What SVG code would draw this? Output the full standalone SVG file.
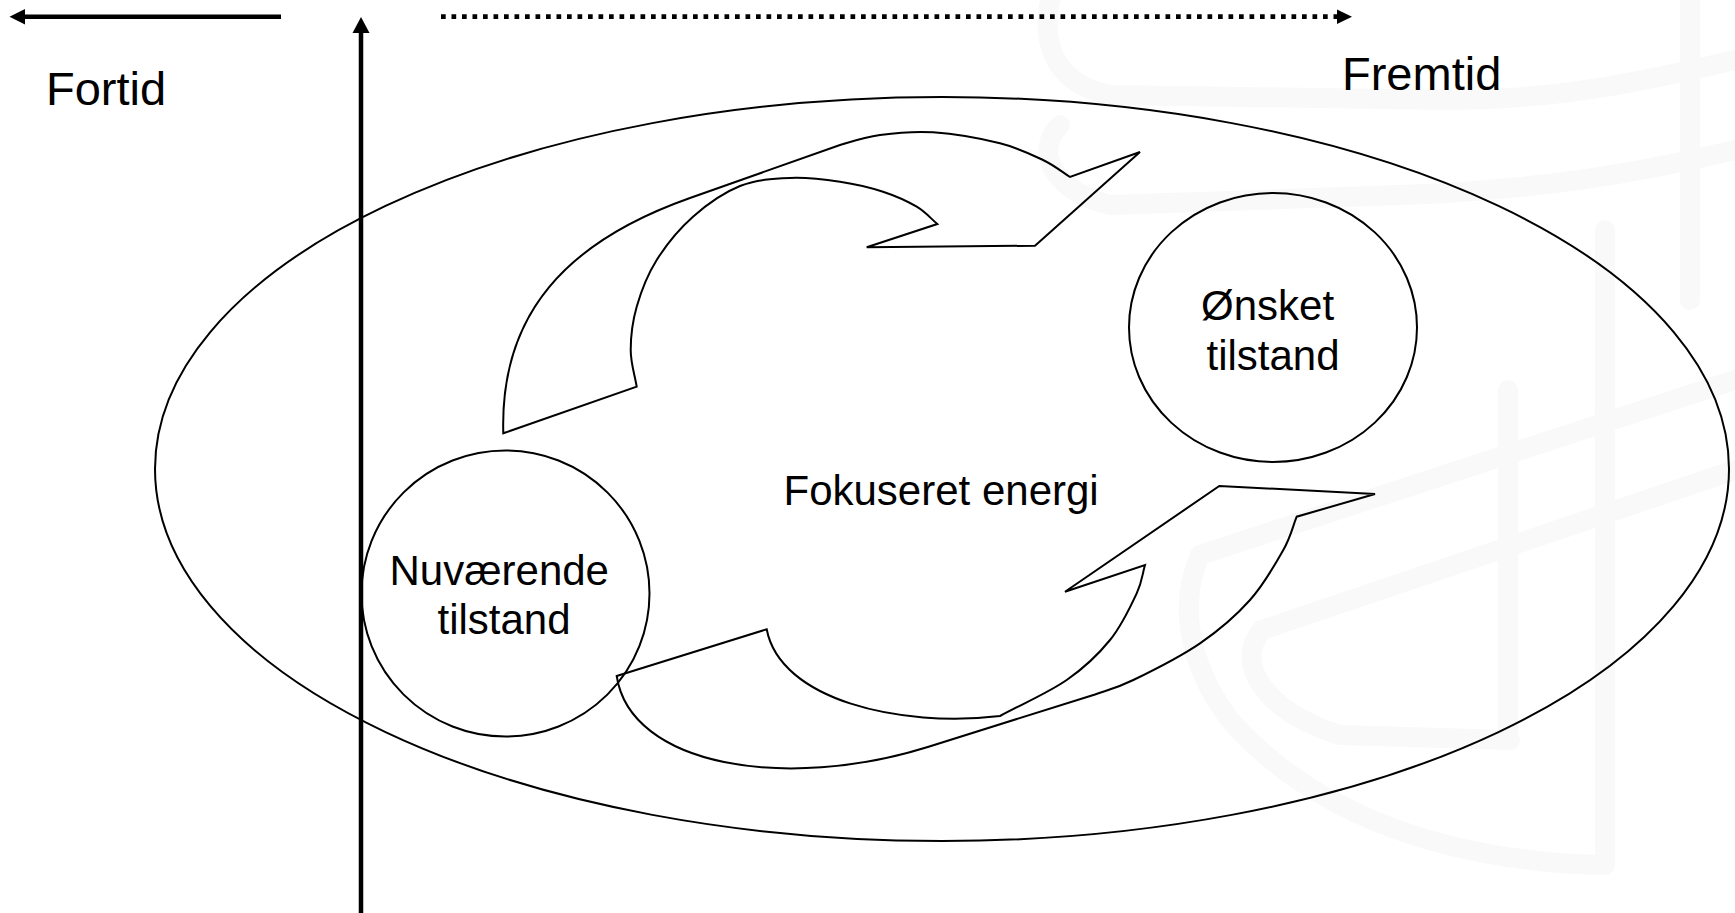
<svg xmlns="http://www.w3.org/2000/svg" width="1735" height="913" viewBox="0 0 1735 913">
  <style>
    .bg { fill: #ffffff; }
    .mark { fill: none; stroke: #f8f9f8; stroke-width: 20; stroke-linecap: round; stroke-linejoin: round; }
    .outline { fill: none; stroke: #000000; stroke-width: 2; stroke-linejoin: miter; }
    .axis { fill: none; stroke: #000000; stroke-width: 4.5; }
    .dotted { fill: none; stroke: #000000; stroke-width: 4.7; stroke-dasharray: 4.7 5.8; }
    .head { fill: #000000; stroke: none; }
    .label { font-family: "Liberation Sans", Arial, sans-serif; fill: #000000; }
    .big { font-size: 47px; }
    .mid { font-size: 42px; }
  </style>

  <rect class="bg" x="0" y="0" width="1735" height="913"/>

  <!-- faint background emblem -->
  <g id="emblem">
    <path class="mark" d="M1050,0 C1040,50 1060,85 1110,95 L1450,100 C1560,100 1650,80 1735,60"/>
    <path class="mark" d="M1060,125 C1035,150 1050,190 1110,205 L1400,195 C1550,190 1650,170 1735,150"/>
    <path class="mark" d="M1735,380 L1200,555 C1180,600 1185,660 1230,720 C1300,800 1420,860 1600,865"/>
    <path class="mark" d="M1735,470 L1262,630 C1235,660 1260,710 1340,735 L1510,740"/>
    <path class="mark" d="M1508,390 L1508,740"/>
    <path class="mark" d="M1605,230 L1605,865"/>
    <path class="mark" d="M1690,0 L1690,300"/>
  </g>

  <!-- time axes -->
  <g id="connectors">
    <line class="axis" x1="24" y1="16.7" x2="281" y2="16.7"/>
    <polygon class="head" points="9.5,16.7 25,9 25,24.4"/>
    <line class="axis" x1="361" y1="913" x2="361" y2="31"/>
    <polygon class="head" points="361,17 352.5,33 369.5,33"/>
    <line class="dotted" x1="441" y1="16.7" x2="1337" y2="16.7"/>
    <polygon class="head" points="1352,16.7 1337,9.5 1337,24"/>
  </g>

  <g id="fortid">
    <text class="label big" x="46" y="105">Fortid</text>
  </g>
  <g id="fremtid">
    <text class="label big" x="1342" y="90">Fremtid</text>
  </g>

  <g id="ramme">
    <ellipse class="outline" cx="942" cy="469" rx="787" ry="372"/>
  </g>

  <g id="pil-oeverst">
    <path class="outline" d="M503.3,433.3 L636.7,386.7
      C634.7,374.5 630.7,363.3 630.7,350
      C630.7,336.7 632.4,321.7 636.7,306.7
      C641,291.7 647.3,275 656.7,260
      C666.1,245 679.1,229 693,216.7
      C706.9,204.4 723.8,192.5 740,186
      C756.2,179.6 773.3,178.7 790,178
      C806.7,177.3 824.5,179.4 840,181.7
      C855.5,184 870.2,187.5 883,191.7
      C895.8,195.9 907.7,201.3 916.7,206.7
      C925.8,212.1 930.4,218.2 937.3,224
      L866.7,247.3 L1035,245.7 L1140,152 L1070,177
      C1061,171.3 1054.7,165.6 1043,160
      C1031.3,154.4 1018.3,147.9 1000,143.3
      C981.7,138.7 953,133.7 933,132.3
      C913,130.9 895.5,132.9 880,135
      C864.5,137.1 853.3,141 840,145
      L690,198
      C567.4,241.3 499.7,313.3 503.3,433.3 Z"/>
  </g>

  <g id="pil-nederst">
    <path class="outline" d="M616.7,676 L766.7,629.3
      C780,700 900,728 1000,716
      C1022.2,704 1048.4,692.7 1066.7,680
      C1085,667.3 1098.3,654.5 1110,640
      C1121.7,625.6 1130.9,605.8 1136.7,593.3
      C1142.5,580.8 1142.2,574.4 1145,565
      L1065,591.7 L1219.3,486 L1375,494 L1296.7,516.7
      C1292.2,527.8 1291.1,536.1 1283.3,550
      C1275.5,563.9 1263.9,584.5 1250,600
      C1236.1,615.6 1219.5,630 1200,643.3
      C1180.6,656.6 1150.8,671.5 1133.3,680
      C1115.8,688.5 1108.9,689.7 1095,694.5
      L928.6,746.7
      C785.5,791.7 630.2,766 616.7,676 Z"/>
  </g>

  <g id="nuvaerende-tilstand">
    <ellipse class="outline" cx="505.5" cy="593.5" rx="144" ry="143"/>
    <text class="label mid" x="389.5" y="584.5">Nuværende</text>
    <text class="label mid" x="437.5" y="634">tilstand</text>
  </g>

  <g id="oensket-tilstand">
    <ellipse class="outline" cx="1273" cy="327.5" rx="144" ry="134.5"/>
    <text class="label mid" x="1201" y="320">Ønsket</text>
    <text class="label mid" x="1206.5" y="370">tilstand</text>
  </g>

  <g id="fokuseret-energi">
    <text class="label mid" x="783.5" y="505">Fokuseret energi</text>
  </g>
</svg>
